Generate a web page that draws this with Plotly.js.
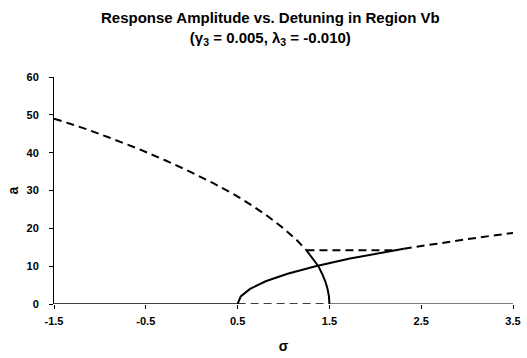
<!DOCTYPE html>
<html>
<head>
<meta charset="utf-8">
<script src="https://cdn.plot.ly/plotly-3.0.1.min.js"></script>
<style>html,body{margin:0;padding:0;background:#fff;}#chart{width:527px;height:358px;}</style>
</head>
<body>
<div id="chart"></div>
<script>
// Upper branch (bending left), dashed (unstable) part
const upperDashSigma = [-1.5, -1.18, -0.90, -0.58, -0.29, -0.02, 0.23, 0.46, 0.66, 0.84, 1.00, 1.14, 1.25];
const upperDashA     = [49.0, 46.5, 44.0, 41.0, 38.0, 35.0, 32.0, 29.0, 26.0, 23.0, 20.0, 17.0, 14.2];
// Upper branch, solid (stable) part down to a = 0
const upperSolidSigma = [1.25, 1.32, 1.38, 1.42, 1.455, 1.48, 1.495, 1.5];
const upperSolidA     = [14.2, 12.0, 10.0, 8.0, 6.0, 4.0, 2.0, 0.0];
// Lower branch (bending right), solid part
const lowerSolidSigma = [0.5, 0.534, 0.636, 0.806, 1.044, 1.35, 1.724, 2.166, 2.31];
const lowerSolidA     = [0.0, 2.0, 4.0, 6.0, 8.0, 10.0, 12.0, 14.0, 14.6];
// Lower branch, dashed part
const lowerDashSigma = [2.31, 2.676, 2.96, 3.254, 3.5];
const lowerDashA     = [14.6, 16.0, 17.0, 18.0, 18.8];
// Jump line
const jumpSigma = [1.25, 2.21];
const jumpA     = [14.2, 14.2];
// Trivial solution a = 0
const trivialStable1Sigma = [-1.5, 0.5];
const trivialUnstableSigma = [0.5, 1.5];
const trivialStable2Sigma = [1.5, 3.5];
const trivialA = [0, 0];

const xTicks = [-1.5, -0.5, 0.5, 1.5, 2.5, 3.5];
const xTickText = ['-1.5', '-0.5', '0.5', '1.5', '2.5', '3.5'];
const yTicks = [0, 10, 20, 30, 40, 50, 60];

const dashPat = '8px,5px';
function tr(x, y, dash, w) {
  return {x: x, y: y, mode: 'lines', type: 'scatter', cliponaxis: false,
          line: {color: '#000', width: w || 2, dash: dash ? dashPat : 'solid'},
          hoverinfo: 'skip', showlegend: false};
}
const data = [
  tr(trivialStable1Sigma, trivialA, false, 1.5),
  tr(trivialUnstableSigma, trivialA, true, 1.5),
  tr(trivialStable2Sigma, trivialA, false, 1.2),
  tr(upperDashSigma, upperDashA, true),
  tr(upperSolidSigma, upperSolidA, false),
  tr(lowerSolidSigma, lowerSolidA, false),
  tr(lowerDashSigma, lowerDashA, true),
  tr(jumpSigma, jumpA, true)
];
const fontFam = 'Liberation Sans, Arial, sans-serif';
const layout = {
  width: 527, height: 358,
  margin: {l: 54, r: 14, t: 77, b: 54},
  paper_bgcolor: '#fff', plot_bgcolor: '#fff',
  showlegend: false,
  title: {
    text: '<b>Response Amplitude vs. Detuning in Region Vb</b><br><b>(γ<sub>3</sub> = 0.005, λ<sub>3</sub> = -0.010)</b>',
    font: {family: fontFam, size: 15, color: '#000'},
    x: 0.513, xanchor: 'center', y: 0.935, yanchor: 'middle'
  },
  xaxis: {
    range: [-1.5, 3.5], tickvals: xTicks, ticktext: xTickText,
    showgrid: false, zeroline: false, showline: false,
    ticks: 'outside', ticklen: 4, tickcolor: '#000', ticklabelstandoff: 3,
    tickfont: {family: fontFam, size: 11, color: '#000', weight: 'bold'},
    title: {text: '<b>σ</b>', font: {family: fontFam, size: 14, color: '#000'}, standoff: 14}
  },
  yaxis: {
    range: [0, 60], tickvals: yTicks,
    showgrid: false, zeroline: false, showline: true, linecolor: '#000', linewidth: 1,
    ticks: 'outside', ticklen: 4, tickcolor: '#000', ticklabelstandoff: 8,
    tickfont: {family: fontFam, size: 11, color: '#000', weight: 'bold'},
    title: {text: '<b>a</b>', font: {family: fontFam, size: 14, color: '#000'}, standoff: 4}
  }
};
Plotly.newPlot('chart', data, layout, {displayModeBar: false, staticPlot: true});
</script>
</body>
</html>
